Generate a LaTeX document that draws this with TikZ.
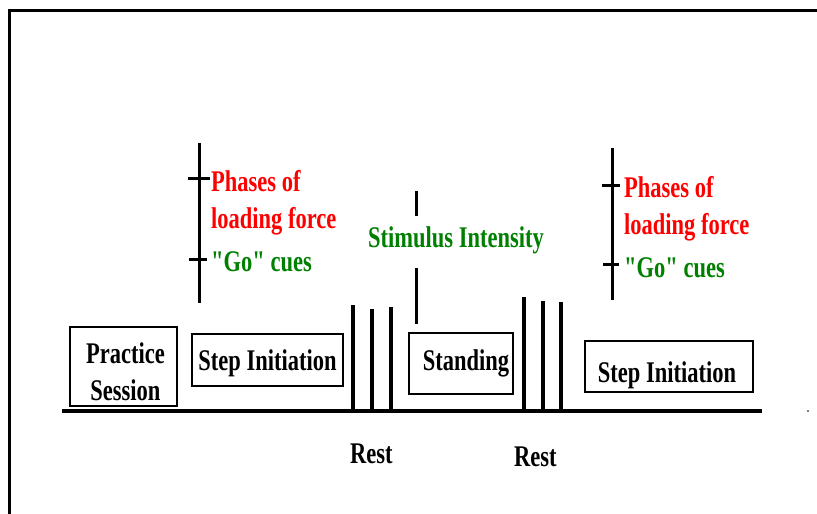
\documentclass[tikz,border=0pt]{standalone}
\usepackage{fontspec}
\newfontfamily\cuefont{Liberation Serif}[FakeStretch=0.75]
\usepackage{tikz}
\definecolor{cuered}{RGB}{255, 0, 0}
\definecolor{cuegreen}{RGB}{0, 128, 0}
\tikzset{
  phasebox/.style={line width=2pt},
  spike/.style={line width=4pt},
  axis/.style={line width=3pt},
  tag/.style={inner sep=0pt, align=left}
}

\begin{document}
\begin{tikzpicture}[x=1pt, y=-1pt, font=\cuefont\bfseries\fontsize{30}{37.5}\selectfont]
  \useasboundingbox (0, 0) rectangle (817, 514);
  \fill [white] (0, 0) rectangle (817, 514);
  \clip (0, 0) rectangle (817, 514);

  \draw[line width=3.5] (9.5, 530) -- (9.5, 10.5) -- (830, 10.5);

  % time line
  \coordinate (t0) at (62, 410.5);
  \coordinate (t1) at (762, 410.5);
  \draw[line width=4] (t0) -- (t1);
  \fill (808, 411) circle (0.9);

  \draw [phasebox] (70, 327) rectangle (177, 406)
  node[midway, xshift=2, yshift=-5, align=center] (practice) {Practice\\Session};

  \draw [phasebox] (192, 334) rectangle (343, 386)
  node[midway, yshift=-3] (step1) {Step Initiation};

  \draw [phasebox] (409, 333) rectangle (513, 394)
  node[midway, xshift=5] (standing) {Standing};

  \draw [phasebox] (585, 341) rectangle (753, 392)
  node[midway, xshift=-2, yshift=-9] (step2) {Step Initiation};

  % rest pulses
  \foreach \x/\top in {352.7/305, 371.7/309, 390.5/307, 524/297, 543/300.5, 560.7/301.5}
    \draw[spike] (\x, 410.5) -- (\x, \top);

  \node[tag, anchor=base west] (rest1) at (350, 463) {Rest};
  \node[tag, anchor=base west] (rest2) at (514, 466.5) {Rest};

  % stimulus intensity
  \node[tag, anchor=base west, text=cuegreen] (stim) at (368, 247) {Stimulus Intensity};
  \coordinate (s0) at (416.7, 191);
  \coordinate (s1) at (416.7, 216);
  \coordinate (s2) at (416.7, 268);
  \coordinate (s3) at (416.7, 324);
  \draw[axis] (s0) -- (s1);
  \draw[axis] (s2) -- (s3);

  % left cue axis
  \coordinate (la0) at (199.5, 143);
  \coordinate (la1) at (199.5, 303);
  \draw[axis] (la0) -- (la1);
  \draw[axis] (188, 178.5) -- (210, 178.5);
  \draw[axis] (189, 259) -- (207, 259);
  \node[tag, anchor=north west, text=cuered] (load1) at (211, 170) {Phases of\\loading force};
  \node[tag, anchor=base west, text=cuegreen] (go1) at (211, 271.7) {"Go" cues};

  % right cue axis
  \coordinate (ra0) at (612.7, 148);
  \coordinate (ra1) at (612.7, 300);
  \draw[axis] (ra0) -- (ra1);
  \draw[axis] (601.7, 185) -- (620, 185);
  \draw[axis] (603, 264.5) -- (619.3, 264.5);
  \node[tag, anchor=north west, text=cuered] (load2) at (624, 176) {Phases of\\loading force};
  \node[tag, anchor=base west, text=cuegreen] (go2) at (624, 277.5) {"Go" cues};

\end{tikzpicture}
\end{document}
